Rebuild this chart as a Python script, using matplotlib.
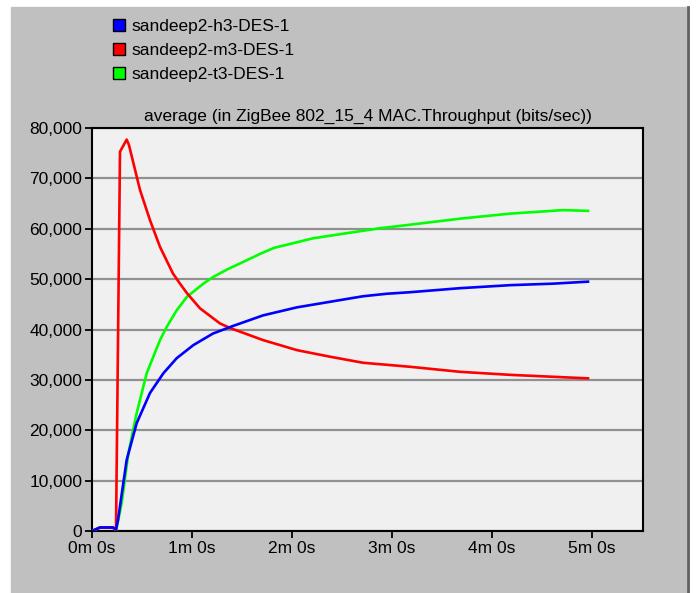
import matplotlib.pyplot as plt
from matplotlib.patches import Patch, Rectangle
from matplotlib.lines import Line2D
from matplotlib.ticker import FuncFormatter

# INGRESO
# tiempo en segundos, throughput promedio en bits/sec
nombres = ['sandeep2-h3-DES-1', 'sandeep2-m3-DES-1', 'sandeep2-t3-DES-1']
colores = ['#0000ff', '#ff0000', '#00ff00']

t_h3 = [0, 4.8, 12.6, 14.4, 15.6, 20.8, 26.8, 34.8, 42.8, 50.8, 60.8, 72.6,
        84.6, 102.6, 123, 142.8, 162.6, 177, 190.8, 220.8, 250.8, 276.6, 297.6]
y_h3 = [0, 700, 700, 300, 2200, 14100, 21400, 27400, 31300, 34300, 36900, 39200,
        40700, 42800, 44400, 45500, 46600, 47100, 47400, 48200, 48800, 49100, 49500]

t_m3 = [0, 4.8, 12.6, 14.4, 16.8, 20.8, 22.2, 28.8, 34.8, 40.8, 48.6, 52.8,
        57, 64.8, 76.8, 82.8, 102.6, 123, 142.8, 162.6, 190.8, 220.8, 250.8, 297.6]
y_m3 = [0, 700, 700, 0, 75300, 77700, 76600, 67700, 61700, 56400, 51100, 49100,
        47200, 44200, 41200, 40300, 37900, 35900, 34600, 33400, 32600, 31600, 31000, 30300]

t_t3 = [0, 4.8, 12.6, 14.4, 17.8, 21.8, 26.8, 32.8, 40.8, 44.8, 50.8, 57,
        66.8, 72.6, 81, 100.8, 109.2, 132.6, 152.4, 172.8, 190.8, 220.8, 250.8, 282.6, 297.6]
y_t3 = [0, 700, 700, 0, 5500, 15400, 23400, 31300, 37900, 40500, 43800, 46500,
        49100, 50400, 51900, 55000, 56200, 58100, 59100, 60100, 60800, 62000, 63000, 63700, 63550]

xticks = [0, 60, 120, 180, 240, 300]
xetiquetas = ['0m 0s', '1m 0s', '2m 0s', '3m 0s', '4m 0s', '5m 0s']
yticks = [0, 10000, 20000, 30000, 40000, 50000, 60000, 70000, 80000]

titulo = 'average (in ZigBee 802_15_4 MAC.Throughput (bits/sec))'

# GRAFICA
plt.rcParams['font.family'] = ['Liberation Sans', 'DejaVu Sans']
fig = plt.figure(figsize=(6.97, 5.93), dpi=100)
fig.patch.set_facecolor('white')

# panel gris de fondo
fig.patches.append(Rectangle((11/697, 0), 675/697, 586/593,
                             transform=fig.transFigure, color='#c0c0c0', zorder=-10))
fig.lines.append(Line2D([688/697, 688/697], [0, 586/593],
                        transform=fig.transFigure, color='#606060', lw=2))

ax = fig.add_axes([92/697, 62/593, 551/697, 403/593])
ax.set_facecolor('#f0f0f0')

# orden de dibujo: verde, rojo, azul encima
ax.plot(t_t3, y_t3, color=colores[2], lw=1.9, zorder=3)
ax.plot(t_m3, y_m3, color=colores[1], lw=1.9, zorder=4)
ax.plot(t_h3, y_h3, color=colores[0], lw=1.9, zorder=5)

ax.set_xlim(0, 330.6)
ax.set_ylim(0, 80000)
ax.set_xticks(xticks)
ax.set_xticklabels(xetiquetas)
ax.set_yticks(yticks)
ax.yaxis.set_major_formatter(FuncFormatter(lambda v, p: f'{int(v):,}'))
ax.tick_params(labelsize=12.5, length=5, width=1.3, color='black', pad=2)
ax.grid(axis='y', color='#909090', lw=1.6)
ax.set_axisbelow(True)
for lado in ax.spines.values():
    lado.set_linewidth(1.5)
    lado.set_color('black')

ax.set_title(titulo, fontsize=12.5, pad=5)

# leyenda con cuadros
manijas = [Patch(facecolor=c, edgecolor='black', lw=1) for c in colores]
fig.legend(manijas, nombres, loc='upper left', bbox_to_anchor=(104/697, 1 - 10/593),
           frameon=False, fontsize=12.5, handlelength=0.7, handleheight=0.7,
           handletextpad=0.4, labelspacing=0.52, borderpad=0)

plt.savefig('out.png', dpi=100)
